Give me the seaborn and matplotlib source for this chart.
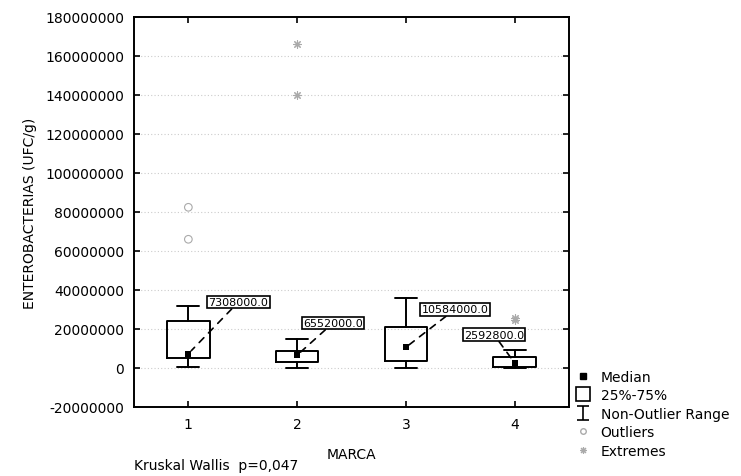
import numpy as np
import pandas as pd
import matplotlib
matplotlib.use("Agg")
import matplotlib.pyplot as plt
from matplotlib.lines import Line2D
from matplotlib.path import Path
from matplotlib.ticker import StrMethodFormatter
import seaborn as sns

# values
marca = [1, 2, 3, 4]
medians = [7308000, 6552000, 10584000, 2592800]
q1 = [4970000, 3200000, 3400000, 360000]
q3 = [24300000, 8900000, 21200000, 5500000]
whis_lo = [700000, 0, 0, 0]
whis_hi = [31600000, 14700000, 35700000, 9400000]
outlier_x = [1, 1]
outlier_y = [66000000, 82400000]
extreme_x = [2, 2, 4, 4]
extreme_y = [139800000, 166200000, 24500000, 25800000]
label_x = [1.46, 2.33, 3.45, 3.81]
label_y = [33800000, 23100000, 30000000, 17100000]

sns.set_style("ticks")
plt.rcParams['font.family'] = ['DejaVu Sans']
plt.rcParams['axes.unicode_minus'] = False
plt.rcParams['xtick.direction'] = 'in'
plt.rcParams['ytick.direction'] = 'in'
plt.rcParams['text.color'] = 'black'
plt.rcParams['axes.labelcolor'] = 'black'

fig = plt.figure(figsize=(7.41, 4.77), dpi=100)
ax = fig.add_axes([0.1808, 0.1447, 0.5871, 0.8176])

stats = []
for i in range(len(marca)):
    stats.append({'med': medians[i], 'q1': q1[i], 'q3': q3[i],
                  'whislo': whis_lo[i], 'whishi': whis_hi[i], 'fliers': []})
ax.bxp(stats, positions=marca, widths=0.39, capwidths=0.2, showfliers=False,
       boxprops=dict(color='black', linewidth=1.4),
       whiskerprops=dict(color='black', linewidth=1.4),
       capprops=dict(color='black', linewidth=1.4),
       medianprops=dict(linewidth=0))

df_med = pd.DataFrame({'MARCA': marca, 'med': medians})
sns.scatterplot(data=df_med, x='MARCA', y='med', marker='s', color='black',
                s=18, linewidth=0, ax=ax, zorder=5)
sns.scatterplot(x=outlier_x, y=outlier_y, marker='o', facecolor='none',
                edgecolor='#aaaaaa', s=30, linewidth=0.8, ax=ax)
sns.scatterplot(x=extreme_x, y=extreme_y, marker=(8, 2, 0), color='#aaaaaa',
                s=30, linewidth=0.8, ax=ax)

for i in range(len(marca)):
    ax.annotate(f"{medians[i]:.1f}", xy=(marca[i], medians[i]),
                xytext=(label_x[i], label_y[i]), ha='center', va='center',
                fontsize=8,
                bbox=dict(boxstyle='square,pad=0.12', fc='white', ec='black', lw=1.2),
                arrowprops=dict(arrowstyle='-', linestyle=(0, (4, 4)),
                                color='black', lw=1.2, shrinkA=0, shrinkB=3))

ax.set_xlim(0.5, 4.5)
ax.set_ylim(-20000000, 180000000)
ax.set_xticks(marca)
ax.set_xticklabels([str(m) for m in marca])
ax.set_yticks(np.arange(-20000000, 180000001, 20000000))
ax.yaxis.set_major_formatter(StrMethodFormatter('{x:.0f}'))
ax.tick_params(axis='both', top=True, right=True, length=4, width=1.2,
               labelsize=10, colors='black', pad=7)
ax.yaxis.grid(True, linestyle=(0, (1, 2)), color='#cccccc', linewidth=0.8)
for sp in ax.spines.values():
    sp.set_linewidth(1.4)
    sp.set_color('black')

ax.set_xlabel('MARCA', fontsize=10, labelpad=12)
ax.set_ylabel('ENTEROBACTERIAS (UFC/g)', fontsize=10, labelpad=6)
fig.text(134 / 741, 1 - 466 / 477, 'Kruskal Wallis  p=0,047', fontsize=10,
         ha='left', va='center')

range_marker = Path([(-0.8, 1), (0.8, 1), (0, 1), (0, -1), (-0.8, -1), (0.8, -1)],
                    [Path.MOVETO, Path.LINETO, Path.MOVETO, Path.LINETO,
                     Path.MOVETO, Path.LINETO])
handles = [
    Line2D([], [], linestyle='none', marker='s', color='black', markersize=4),
    Line2D([], [], linestyle='none', marker='s', markerfacecolor='white',
           markeredgecolor='black', markersize=9.5, markeredgewidth=1.2),
    Line2D([], [], linestyle='none', marker=range_marker, color='black',
           markersize=10, markeredgewidth=1.2),
    Line2D([], [], linestyle='none', marker='o', markerfacecolor='none',
           markeredgecolor='#aaaaaa', markersize=4),
    Line2D([], [], linestyle='none', marker=(8, 2, 0), color='#aaaaaa',
           markersize=5, markeredgewidth=0.8),
]
labels = ['Median', '25%-75%', 'Non-Outlier Range', 'Outliers', 'Extremes']
fig.legend(handles, labels, loc='upper left', bbox_to_anchor=(570 / 741, 1 - 365 / 477),
           frameon=False, fontsize=10, labelspacing=0.33, handlelength=1.0,
           handletextpad=0.8, borderaxespad=0)

fig.savefig('out.png', dpi=100)
